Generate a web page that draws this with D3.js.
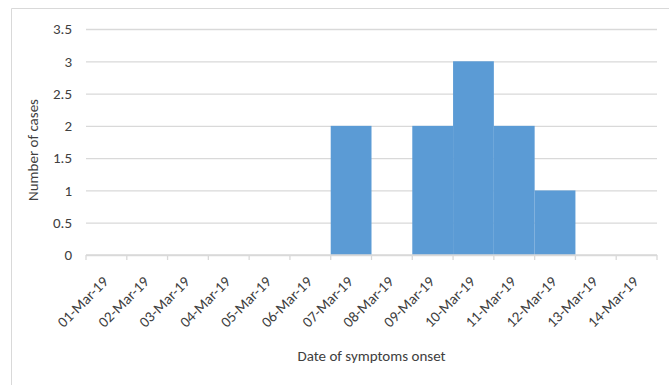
<!DOCTYPE html>
<html>
<head>
<meta charset="utf-8">
<script src="https://cdn.jsdelivr.net/npm/d3@7"></script>
<style>
  body { margin: 0; background: #fff; }
  text { font-family: Carlito, Lato, "Open Sans", sans-serif; fill: #404040; }
</style>
</head>
<body>
<svg width="669" height="385"></svg>
<script>
const dates = ['01-Mar-19', '02-Mar-19', '03-Mar-19', '04-Mar-19', '05-Mar-19', '06-Mar-19', '07-Mar-19',
               '08-Mar-19', '09-Mar-19', '10-Mar-19', '11-Mar-19', '12-Mar-19', '13-Mar-19', '14-Mar-19'];
const cases = [0, 0, 0, 0, 0, 0, 2, 0, 2, 3, 2, 1, 0, 0];
const yTicks = [0, 0.5, 1, 1.5, 2, 2.5, 3, 3.5];

const svg = d3.select('svg');
const width = +svg.attr('width');
const height = +svg.attr('height');

const data = dates.map((d, i) => ({date: d, n: cases[i]}));

// chart area border (light grey)
svg.append('path')
    .attr('d', 'M11.5,385 L11.5,8.5 L669,8.5')
    .attr('fill', 'none')
    .attr('stroke', '#d9d9d9');

const margin = {top: 29, right: 12, bottom: 130, left: 86};
const innerwidth = width - margin.left - margin.right;
const innerheight = height - margin.top - margin.bottom;

const g = svg.append('g')
    .attr('transform', 'translate(' + margin.left + ',' + margin.top + ')');

const xscale = d3.scaleBand()
    .domain(dates)
    .range([0, innerwidth])
    .padding(0);

const yscale = d3.scaleLinear()
    .domain([0, 3.5])
    .range([innerheight, 0]);

// gridlines + y labels
const yaxisG = g.append('g').call(d3.axisLeft(yscale)
        .tickValues(yTicks)
        .tickFormat(d3.format('~g'))
        .tickSize(-innerwidth)
        .tickPadding(14));
yaxisG.select('.domain').remove();
yaxisG.selectAll('.tick line').attr('stroke', '#d9d9d9').attr('stroke-width', 1.3);
yaxisG.selectAll('.tick text')
    .style('font-size', '15px')
    .style('font-family', 'Carlito, Lato, "Open Sans", sans-serif')
    .attr('fill', '#404040');

// bars
g.selectAll('rect.bar')
    .data(data)
    .enter()
    .append('rect')
    .attr('class', 'bar')
    .attr('x', d => xscale(d.date))
    .attr('y', d => yscale(d.n))
    .attr('width', xscale.bandwidth())
    .attr('height', d => innerheight - yscale(d.n))
    .attr('fill', '#5b9bd5');

// x axis line with ticks at category boundaries
const xaxisG = g.append('g').attr('transform', 'translate(0,' + innerheight + ')');
xaxisG.append('line')
    .attr('x1', 0).attr('x2', innerwidth)
    .attr('stroke', '#d9d9d9').attr('stroke-width', 1.3);
const bounds = dates.map(d => xscale(d)).concat([innerwidth]);
xaxisG.selectAll('line.tk')
    .data(bounds)
    .enter()
    .append('line')
    .attr('class', 'tk')
    .attr('x1', d => d).attr('x2', d => d)
    .attr('y1', 0).attr('y2', 5)
    .attr('stroke', '#d9d9d9').attr('stroke-width', 1.3);

xaxisG.selectAll('text.lbl')
    .data(dates)
    .enter()
    .append('text')
    .attr('class', 'lbl')
    .attr('text-anchor', 'end')
    .attr('transform', d => 'translate(' + (xscale(d) + xscale.bandwidth() / 2 - 1) + ',24) rotate(-45)')
    .attr('dy', '0.35em')
    .style('font-size', '15px')
    .text(d => d);

// axis titles
svg.append('text')
    .attr('x', margin.left + innerwidth / 2)
    .attr('y', 361)
    .attr('text-anchor', 'middle')
    .style('font-size', '15px')
    .text('Date of symptoms onset');

svg.append('text')
    .attr('transform', 'translate(38,' + (margin.top + innerheight / 2 + 8) + ') rotate(-90)')
    .attr('text-anchor', 'middle')
    .style('font-size', '15px')
    .text('Number of cases');
</script>
</body>
</html>
